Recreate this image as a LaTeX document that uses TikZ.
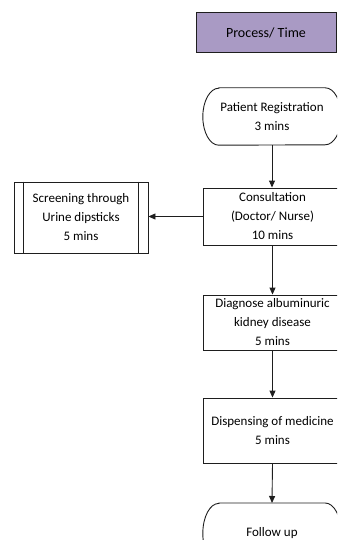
\documentclass[tikz,border=0pt]{standalone}
\usepackage{fontspec}
\setmainfont{Carlito}
\usetikzlibrary{arrows.meta,calc}
\definecolor{hdrfill}{RGB}{169,154,196}
\definecolor{edge}{RGB}{30,30,30}
\begin{document}
\begin{tikzpicture}[x=1pt,y=-1pt,
  every node/.style={font=\fontsize{13}{19}\selectfont, align=center, inner sep=0pt},
  box/.style={draw=edge, line width=0.9pt, fill=white, rectangle},
  conn/.style={draw=edge, line width=0.9pt, -{Triangle[length=7pt,width=6pt]}}]
\useasboundingbox (0,0) rectangle (337,540);
\clip (0,0) rectangle (337,540);
% header
\node[box, fill=hdrfill, minimum width=140pt, minimum height=40pt, font=\fontsize{14}{19}\selectfont] (hdr) at (266,32.5) {Process/ Time};
% patient registration (terminator)
\node[minimum width=138pt, minimum height=57pt] (reg) at (272,116.5) {Patient Registration\\3 mins};
\draw[draw=edge, line width=0.9pt] ($(reg.north west)+(16,0)$) -- ($(reg.north east)+(-16,0)$)
  arc[start angle=90, end angle=-90, x radius=16pt, y radius=28.5pt]
  -- ($(reg.south west)+(16,0)$)
  arc[start angle=270, end angle=90, x radius=16pt, y radius=28.5pt] -- cycle;
% consultation
\node[box, minimum width=139pt, minimum height=57pt] (cons) at (272.5,216.5) {Consultation\\(Doctor/ Nurse)\\10 mins};
% screening (predefined process)
\node[box, minimum width=134pt, minimum height=71pt] (scr) at (81,217.5) {Screening through\\Urine dipsticks\\5 mins};
\draw[draw=edge, line width=0.9pt] ($(scr.north west)+(10,0)$) -- ($(scr.south west)+(10,0)$)
  ($(scr.north east)+(-10,0)$) -- ($(scr.south east)+(-10,0)$);
% diagnose
\node[box, minimum width=139pt, minimum height=55pt] (diag) at (272.5,322.5) {Diagnose albuminuric\\kidney disease\\5 mins};
% dispensing
\node[box, minimum width=139pt, minimum height=65pt] (disp) at (272.5,430.5) {Dispensing of medicine\\5 mins};
% follow up (terminator)
\node[minimum width=138pt, minimum height=60pt, anchor=north] (fol) at (272,503) {};
\node (foltxt) at (272,533) {Follow up};
\draw[draw=edge, line width=0.9pt] ($(fol.north west)+(16,0)$) -- ($(fol.north east)+(-16,0)$)
  arc[start angle=90, end angle=-90, x radius=16pt, y radius=30pt]
  -- ($(fol.south west)+(16,0)$)
  arc[start angle=270, end angle=90, x radius=16pt, y radius=30pt] -- cycle;
% connectors
\draw[conn] (reg.south) -- (reg.south |- cons.north);
\draw[conn] (cons.west) -- (cons.west -| scr.east);
\draw[conn] (cons.south) -- (diag.north);
\draw[conn] (diag.south) -- (disp.north);
\draw[conn] (disp.south) -- (fol.north);
\end{tikzpicture}
\end{document}
